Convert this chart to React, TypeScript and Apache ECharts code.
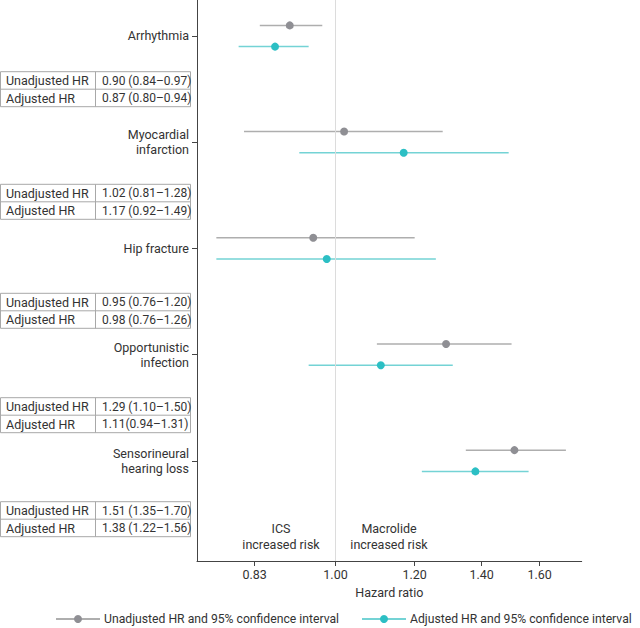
import React, { useEffect, useRef } from "react";
import * as echarts from "echarts";

const categories = [
  "Arrhythmia",
  "Myocardial\ninfarction",
  "Hip fracture",
  "Opportunistic\ninfection",
  "Sensorineural\nhearing loss",
];
const unadjHR = [0.9, 1.02, 0.95, 1.29, 1.51];
const unadjLo = [0.84, 0.81, 0.76, 1.1, 1.35];
const unadjHi = [0.97, 1.28, 1.2, 1.5, 1.7];
const adjHR = [0.87, 1.17, 0.98, 1.11, 1.38];
const adjLo = [0.8, 0.92, 0.76, 0.94, 1.22];
const adjHi = [0.94, 1.49, 1.26, 1.31, 1.56];
const unadjText = [
  "0.90 (0.84–0.97)",
  "1.02 (0.81–1.28)",
  "0.95 (0.76–1.20)",
  "1.29 (1.10–1.50)",
  "1.51 (1.35–1.70)",
];
const adjText = [
  "0.87 (0.80–0.94)",
  "1.17 (0.92–1.49)",
  "0.98 (0.76–1.26)",
  "1.11(0.94–1.31)",
  "1.38 (1.22–1.56)",
];
const xTicks = [0.83, 1.0, 1.2, 1.4, 1.6];
const unadjName = "Unadjusted HR and 95% confidence interval";
const adjName = "Adjusted HR and 95% confidence interval";

const FONT = "Roboto, sans-serif";
const FS = 12.5;
const TEXT = "#333333";
const GRAY_LINE = "#aeaeae";
const GRAY_DOT = "#8f8f94";
const TEAL_LINE = "#74d3d5";
const TEAL_DOT = "#2cbfc4";

const tableTops = [71.7, 184.3, 293.3, 397.7, 501.7];

function makeSeries(
  name: string,
  hr: number[],
  lo: number[],
  hi: number[],
  off: number,
  lineColor: string,
  dotColor: string
) {
  return categories.map((_, i) => ({
    type: "line",
    name,
    symbol: "circle",
    symbolSize: 8,
    showSymbol: true,
    showAllSymbol: true,
    itemStyle: { color: dotColor },
    lineStyle: { color: lineColor, width: 1.5 },
    emphasis: { disabled: true },
    silent: true,
    z: 3,
    data: [
      { value: [Math.log(lo[i]), i + off], symbol: "none" },
      { value: [Math.log(hr[i]), i + off] },
      { value: [Math.log(hi[i]), i + off], symbol: "none" },
    ],
  }));
}

export default function App() {
  const ref = useRef<HTMLDivElement>(null);
  useEffect(() => {
    if (!ref.current) return;
    const chart = echarts.init(ref.current, undefined, { renderer: "svg" });

    const graphics: any[] = [];
    tableTops.forEach((top, i) => {
      graphics.push({
        type: "rect",
        shape: { x: 0.5, y: top, width: 190, height: 35 },
        style: { fill: "#fff", stroke: "#a8a8a8", lineWidth: 1 },
      });
      graphics.push({
        type: "line",
        shape: { x1: 0.5, y1: top + 17.5, x2: 190.5, y2: top + 17.5 },
        style: { stroke: "#a8a8a8", lineWidth: 1 },
      });
      graphics.push({
        type: "line",
        shape: { x1: 95.5, y1: top, x2: 95.5, y2: top + 35 },
        style: { stroke: "#a8a8a8", lineWidth: 1 },
      });
      const rows = [
        ["Unadjusted HR", unadjText[i]],
        ["Adjusted HR", adjText[i]],
      ];
      rows.forEach((r, j) => {
        const cy = top + 9 + j * 17.5;
        graphics.push({
          type: "text",
          x: 6,
          y: cy,
          style: {
            text: r[0],
            font: `${FS}px ${FONT}`,
            fill: TEXT,
            textVerticalAlign: "middle",
          },
        });
        graphics.push({
          type: "text",
          x: 102,
          y: cy,
          style: {
            text: r[1],
            font: `12px ${FONT}`,
            fill: TEXT,
            textVerticalAlign: "middle",
          },
        });
      });
    });
    graphics.push({
      type: "text",
      x: 281,
      y: 520,
      style: {
        text: "ICS\nincreased risk",
        font: `${FS}px ${FONT}`,
        fill: TEXT,
        textAlign: "center",
        textVerticalAlign: "top",
        lineHeight: 16,
      },
    });
    graphics.push({
      type: "text",
      x: 389,
      y: 520,
      style: {
        text: "Macrolide\nincreased risk",
        font: `${FS}px ${FONT}`,
        fill: TEXT,
        textAlign: "center",
        textVerticalAlign: "top",
        lineHeight: 16,
      },
    });

    const legendCommon = {
      top: 608,
      itemWidth: 44,
      itemHeight: 10,
      selectedMode: false,
      textStyle: { fontFamily: FONT, fontSize: 12.2, color: TEXT, padding: [0, 0, 0, -1] },
    };

    const series: any[] = [
      ...makeSeries(unadjName, unadjHR, unadjLo, unadjHi, -0.1, GRAY_LINE, GRAY_DOT),
      ...makeSeries(adjName, adjHR, adjLo, adjHi, 0.1, TEAL_LINE, TEAL_DOT),
    ];
    series[0].markLine = {
      silent: true,
      symbol: "none",
      label: { show: false },
      lineStyle: { color: "#dcdcdc", width: 1, type: "solid" },
      data: [{ xAxis: 0 }],
    };
    series[0].z = 4;

    chart.setOption({
      animation: false,
      textStyle: { fontFamily: FONT },
      grid: { left: 197, right: 58.3, top: 0, bottom: 67, containLabel: false },
      xAxis: {
        type: "value",
        min: -0.319,
        max: 0.567,
        name: "Hazard ratio",
        nameLocation: "middle",
        nameGap: 22,
        nameTextStyle: { fontFamily: FONT, fontSize: FS, color: TEXT },
        axisLine: { show: true, onZero: false, lineStyle: { color: "#444", width: 1 } },
        axisTick: {
          show: true,
          length: 5,
          lineStyle: { color: "#444" },
          customValues: xTicks.map((v) => Math.log(v)),
        },
        axisLabel: {
          margin: 7,
          fontFamily: FONT,
          fontSize: FS,
          color: TEXT,
          customValues: xTicks.map((v) => Math.log(v)),
          formatter: (v: number) => Math.exp(v).toFixed(2),
        },
        splitLine: { show: false },
      },
      yAxis: {
        type: "value",
        inverse: true,
        min: -0.339,
        max: 4.944,
        axisLine: { show: true, onZero: false, lineStyle: { color: "#444", width: 1 } },
        axisTick: {
          show: true,
          length: 5,
          lineStyle: { color: "#444" },
          customValues: categories.map((_, i) => i),
        },
        axisLabel: {
          margin: 8,
          fontFamily: FONT,
          fontSize: FS,
          lineHeight: 15,
          color: TEXT,
          align: "right",
          customValues: categories.map((_, i) => i),
          formatter: (v: number) => categories[Math.round(v)] ?? "",
        },
        splitLine: { show: false },
      },
      legend: [
        { ...legendCommon, left: 50, data: [unadjName] },
        { ...legendCommon, left: 356, data: [adjName] },
      ],
      graphic: graphics,
      series,
    });
    return () => chart.dispose();
  }, []);
  return (
    <div
      ref={ref}
      style={{ position: "absolute", left: 0, top: 0, width: 640, height: 628 }}
    />
  );
}
